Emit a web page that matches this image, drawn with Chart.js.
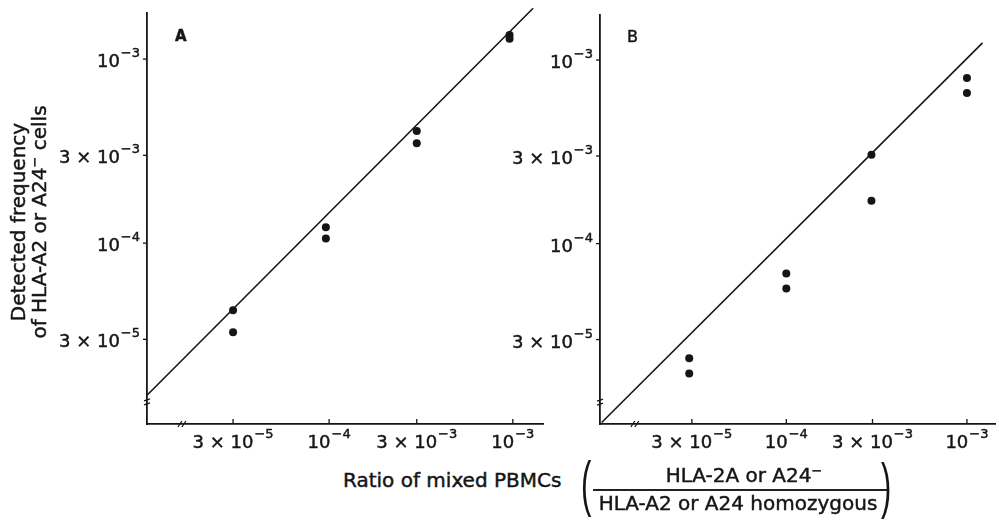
<!DOCTYPE html>
<html>
<head>
<meta charset="utf-8">
<script src="https://cdn.jsdelivr.net/npm/chart.js@4.4.1/dist/chart.umd.min.js"></script>
<style>
  html, body { margin: 0; padding: 0; background: #fff; }
  #wrap { position: relative; width: 999px; height: 522px; background: #fff; overflow: hidden;
          font-family: "DejaVu Sans", sans-serif; color: #151515; }
  canvas { position: absolute; top: 0; }
  .t { position: absolute; white-space: nowrap; font-size: 20px; line-height: 20px; -webkit-text-stroke: 0.45px #151515; }
  .paren { position: absolute; font-family: "Liberation Sans", sans-serif; font-size: 62px; line-height: 62px;
           transform-origin: 0 0; transform: scaleX(0.5); }
  sup.m { font-size: 13px; vertical-align: 7px; line-height: 0; }
</style>
</head>
<body>
<div id="wrap">
  <canvas id="chartA" width="560" height="460" style="left:0px"></canvas>
  <canvas id="chartB" width="559" height="460" style="left:440px"></canvas>

  <div class="t" style="left:175px; top:29px; font-size:15px; line-height:15px; font-weight:bold;">A</div>
  <div class="t" style="left:627px; top:29px; font-size:16px; line-height:16px;">B</div>

  <div class="t" style="left:-101px; top:201px; width:260px; height:42px; line-height:21px; text-align:center; transform: rotate(-90deg); white-space: normal;">
    Detected frequency<br>of HLA-A2 or A24<sup class="m">−</sup> cells
  </div>

  <div class="t" style="left:343px; top:470px;">Ratio of mixed PBMCs</div>
  <div class="paren" style="left:581px; top:452px;">(</div>
  <div class="t" style="left:594px; top:465px; width:300px; text-align:center;">HLA-2A or A24<sup class="m">−</sup></div>
  <div style="position:absolute; left:593px; top:489px; width:294px; height:2px; background:#222;"></div>
  <div class="t" style="left:588px; top:493px; width:300px; text-align:center;">HLA-A2 or A24 homozygous</div>
  <div class="paren" style="left:881px; top:454px;">)</div>
</div>

<script>
// ---------------- data ----------------
const xTickValues = [3e-5, 1e-4, 3e-4, 1e-3];
const xTickLabels = ['3 × 10^−5', '10^−4', '3 × 10^−3', '10^−3'];
const yTickValues = [3e-5, 1e-4, 3e-4, 1e-3];
const yTickLabels = ['3 × 10^−5', '10^−4', '3 × 10^−3', '10^−3'];

// Panel A: ratio of mixed PBMCs vs detected frequency
const ratiosA = [3e-5, 3e-5, 9.6e-5, 9.6e-5, 3e-4, 3e-4, 9.6e-4, 9.6e-4];
const freqA   = [4.32e-5, 3.28e-5, 1.22e-4, 1.06e-4, 4.06e-4, 3.49e-4, 1.35e-3, 1.29e-3];
const fitXA   = [1.02e-5, 1.29e-3];
const fitYA   = [1.49e-5, 1.89e-3];

// Panel B
const ratiosB = [2.9e-5, 2.9e-5, 1e-4, 1e-4, 2.96e-4, 2.96e-4, 1e-3, 1e-3];
const freqB   = [2.37e-5, 1.96e-5, 6.87e-5, 5.69e-5, 3.05e-4, 1.71e-4, 7.98e-4, 6.62e-4];
const fitXB   = [9.5e-6, 1.22e-3];
const fitYB   = [1.06e-5, 1.24e-3];

// ---------------- drawing ----------------
const INK = '#151515';
const BASE_FONT = '18px "DejaVu Sans", sans-serif';
const SUP_FONT = '13px "DejaVu Sans", sans-serif';

function labelWidth(ctx, label) {
  const [base, exp] = label.split('^');
  ctx.font = BASE_FONT; const wb = ctx.measureText(base).width;
  ctx.font = SUP_FONT; const we = exp ? ctx.measureText(exp).width + 1 : 0;
  return wb + we;
}
function drawLabel(ctx, label, x, baseline) {
  const [base, exp] = label.split('^');
  ctx.textAlign = 'left'; ctx.textBaseline = 'alphabetic';
  ctx.font = BASE_FONT;
  ctx.fillText(base, x, baseline); ctx.strokeText(base, x, baseline);
  const wb = ctx.measureText(base).width;
  if (exp) {
    ctx.font = SUP_FONT;
    ctx.fillText(exp, x + wb + 1, baseline - 10); ctx.strokeText(exp, x + wb + 1, baseline - 10);
  }
}

const decor = {
  id: 'decor',
  afterDraw(chart, args, opts) {
    const { ctx, chartArea } = chart;
    const xs = chart.scales.x, ys = chart.scales.y;
    ctx.save();
    ctx.strokeStyle = INK; ctx.fillStyle = INK;
    ctx.lineWidth = 1.3;
    // inward x ticks
    xs.ticks.forEach(t => {
      const px = xs.getPixelForValue(t.value);
      ctx.beginPath(); ctx.moveTo(px, chartArea.bottom); ctx.lineTo(px, chartArea.bottom - 5); ctx.stroke();
    });
    // outward y ticks
    ys.ticks.forEach(t => {
      const py = ys.getPixelForValue(t.value);
      ctx.beginPath(); ctx.moveTo(chartArea.left, py); ctx.lineTo(chartArea.left - 4, py); ctx.stroke();
    });
    // axis breaks
    const bx = xs.getPixelForValue(opts.xBreak);
    [-2, 2].forEach(d => {
      ctx.beginPath(); ctx.moveTo(bx + d - 2, chartArea.bottom + 3); ctx.lineTo(bx + d + 2, chartArea.bottom - 3); ctx.stroke();
    });
    const by = ys.getPixelForValue(opts.yBreak);
    [-2, 2].forEach(d => {
      ctx.beginPath(); ctx.moveTo(chartArea.left - 3, by + d + 1); ctx.lineTo(chartArea.left + 3, by + d - 1); ctx.stroke();
    });
    // tick labels with superscript exponents
    ctx.lineWidth = 0.45;
    xs.ticks.forEach((t, i) => {
      const lab = xTickLabels[i];
      const w = labelWidth(ctx, lab);
      drawLabel(ctx, lab, xs.getPixelForValue(t.value) - w / 2, chartArea.bottom + 24);
    });
    ys.ticks.forEach((t, i) => {
      const lab = yTickLabels[i];
      const w = labelWidth(ctx, lab);
      drawLabel(ctx, lab, chartArea.left - 7 - w, ys.getPixelForValue(t.value) + 8);
    });
    ctx.restore();
  }
};

function makeChart(id, xs, ys, fx, fy, range, yAxisWidth, pad, breaks) {
  const pts = xs.map((x, i) => ({ x: x, y: ys[i] }));
  const fit = fx.map((x, i) => ({ x: x, y: fy[i] }));
  return new Chart(document.getElementById(id), {
    type: 'scatter',
    data: {
      datasets: [
        { data: pts, pointRadius: 4, pointBackgroundColor: INK, pointBorderWidth: 0, showLine: false },
        { data: fit, showLine: true, pointRadius: 0, borderColor: INK, borderWidth: 1.6, clip: false }
      ]
    },
    options: {
      responsive: false,
      animation: false,
      events: [],
      layout: { padding: pad },
      plugins: { legend: { display: false }, tooltip: { enabled: false }, decor: breaks },
      scales: {
        x: {
          type: 'logarithmic', min: range.xMin, max: range.xMax,
          afterBuildTicks: s => { s.ticks = xTickValues.map(v => ({ value: v })); },
          afterFit: s => { s.height = 36; },
          ticks: { display: false },
          grid: { drawOnChartArea: false, drawTicks: false },
          border: { display: true, color: INK, width: 1.8 }
        },
        y: {
          type: 'logarithmic', min: range.yMin, max: range.yMax,
          afterBuildTicks: s => { s.ticks = yTickValues.map(v => ({ value: v })); },
          afterFit: s => { s.width = yAxisWidth; },
          ticks: { display: false },
          grid: { drawOnChartArea: false, drawTicks: false },
          border: { display: true, color: INK, width: 1.8 }
        }
      }
    },
    plugins: [decor]
  });
}

makeChart('chartA', ratiosA, freqA, fitXA, fitYA,
  { xMin: 1.02e-5, xMax: 1.46e-3, yMin: 1.04e-5, yMax: 1.78e-3 },
  147, { left: 0, right: 17, top: 13, bottom: 0 },
  { xBreak: 1.58e-5, yBreak: 1.37e-5 });

makeChart('chartB', ratiosB, freqB, fitXB, fitYB,
  { xMin: 9.3e-6, xMax: 1.43e-3, yMin: 1.04e-5, yMax: 1.76e-3 },
  160, { left: 0, right: 1, top: 15, bottom: 0 },
  { xBreak: 1.45e-5, yBreak: 1.37e-5 });
</script>
</body>
</html>
